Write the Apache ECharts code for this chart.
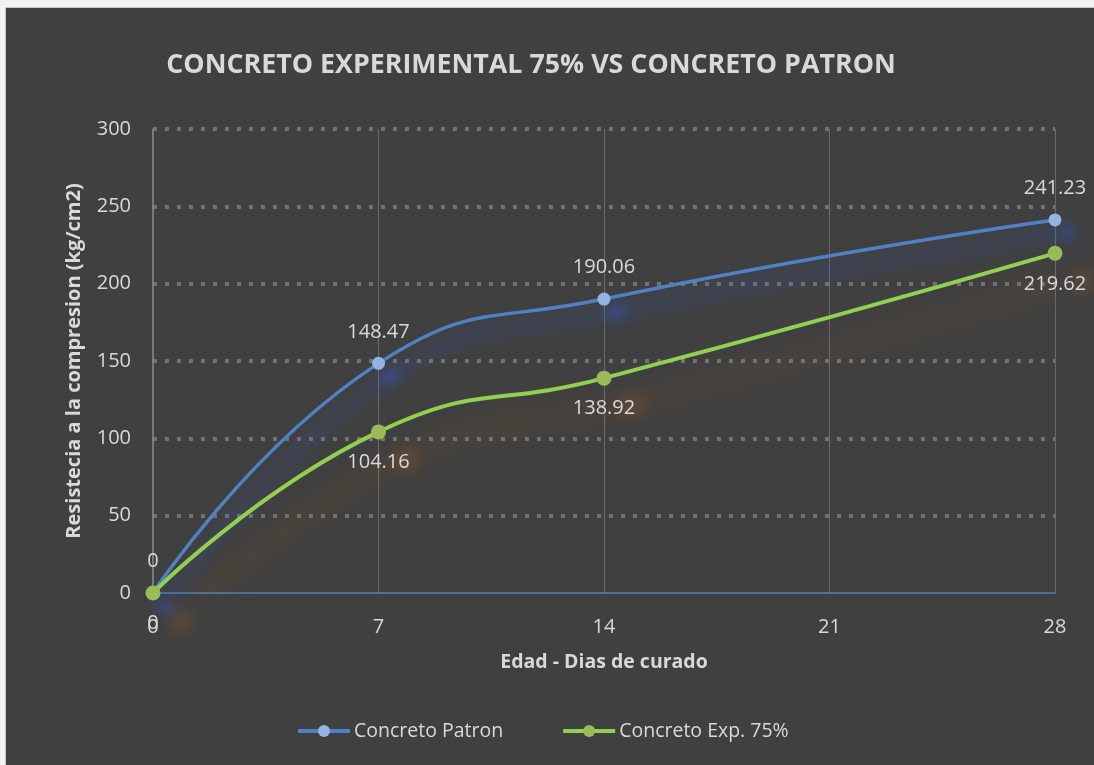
<!DOCTYPE html>
<html>
<head>
<meta charset="utf-8">
<script src="https://cdn.jsdelivr.net/npm/echarts@6/dist/echarts.min.js"></script>
<style>
  html, body { margin: 0; padding: 0; background: #f2f2f2; }
  #frame { position: absolute; left: 5px; top: 7px; width: 1100px; height: 770px;
           background: #404040; border: 1px solid #c8c8c8; box-sizing: border-box; }
  #chart { position: absolute; left: 0; top: 0; width: 1094px; height: 765px; }
</style>
</head>
<body>
<div id="frame"></div>
<div id="chart"></div>
<script>
// Curing age in days and compressive strength (kg/cm2)
const dias = [0, 7, 14, 28];
const patron = [0, 148.47, 190.06, 241.23];
const experimental = [0, 104.16, 138.92, 219.62];
const xTicks = [0, 7, 14, 21, 28];
const yTicks = [0, 50, 100, 150, 200, 250, 300];

const FONT = '"Open Sans", "Noto Sans", sans-serif';
const TXT = '#d9d9d9';

const pairs = (ys) => dias.map((d, i) => [d, ys[i]]);

const chart = echarts.init(document.getElementById('chart'));
chart.setOption({
  backgroundColor: 'transparent',
  animation: false,
  title: {
    text: 'CONCRETO EXPERIMENTAL 75% VS CONCRETO PATRON',
    left: 526, top: 47, textAlign: 'center',
    textStyle: { color: TXT, fontFamily: FONT, fontWeight: 'bold', fontSize: 26.8 }
  },
  legend: {
    bottom: 19, left: 291, itemGap: 58, itemWidth: 52, itemHeight: 15,
    textStyle: { color: TXT, fontFamily: FONT, fontSize: 19.5, padding: [0, 0, 0, -1] },
    lineStyle: { width: 4 },
    data: ['Concreto Patron', 'Concreto Exp. 75%']
  },
  grid: { left: 153, right: 39, top: 129, bottom: 172 },
  xAxis: {
    type: 'value', min: xTicks[0], max: xTicks[xTicks.length - 1], interval: 7,
    name: 'Edad - Dias de curado', nameLocation: 'middle', nameGap: 59,
    nameTextStyle: { color: TXT, fontFamily: FONT, fontWeight: 'bold', fontSize: 19.5 },
    axisLine: { show: true, lineStyle: { color: '#4f7fc0', width: 1.5 } },
    axisTick: { show: false },
    axisLabel: { color: TXT, fontFamily: FONT, fontSize: 20, margin: 24 },
    splitLine: { show: true, showMinLine: false, lineStyle: { color: '#6a6a6a', width: 1 } }
  },
  yAxis: {
    type: 'value', min: yTicks[0], max: yTicks[yTicks.length - 1], interval: 50,
    name: 'Resistecia a la compresion (kg/cm2)', nameLocation: 'middle', nameGap: 69,
    nameTextStyle: { color: TXT, fontFamily: FONT, fontWeight: 'bold', fontSize: 20 },
    axisLine: { show: true, onZero: false, lineStyle: { color: '#8c8c8c', width: 1.5 } },
    axisTick: { show: false },
    axisLabel: { color: TXT, fontFamily: FONT, fontSize: 20, margin: 22 },
    splitLine: { show: true, showMinLine: false, lineStyle: { color: '#727272', width: 4, type: [4, 8] } }
  },
  series: [
    {
      name: 'Concreto Patron', type: 'line', smooth: 0.5, z: 3,
      data: pairs(patron),
      symbol: 'circle', symbolSize: 13,
      lineStyle: { color: '#4f81c4', width: 3.5,
        shadowColor: 'rgba(60,100,210,0.65)', shadowBlur: 16, shadowOffsetX: 12, shadowOffsetY: 13 },
      itemStyle: { color: '#95b3e0', borderWidth: 0,
        shadowColor: 'rgba(50,90,210,0.8)', shadowBlur: 14, shadowOffsetX: 12, shadowOffsetY: 13 },
      label: { show: true, position: 'top', distance: 15, color: TXT, fontFamily: FONT, fontSize: 20 }
    },
    {
      name: 'Concreto Exp. 75%', type: 'line', smooth: 0.5, z: 4,
      data: pairs(experimental),
      symbol: 'circle', symbolSize: 15,
      lineStyle: { color: '#92d050', width: 4,
        shadowColor: 'rgba(165,95,40,0.6)', shadowBlur: 22, shadowOffsetX: 26, shadowOffsetY: 26 },
      itemStyle: { color: '#9bbb59', borderWidth: 0,
        shadowColor: 'rgba(165,95,40,0.75)', shadowBlur: 18, shadowOffsetX: 28, shadowOffsetY: 28 },
      label: { show: true, position: 'bottom', distance: 13, color: TXT, fontFamily: FONT, fontSize: 20 }
    }
  ]
});
</script>
</body>
</html>
